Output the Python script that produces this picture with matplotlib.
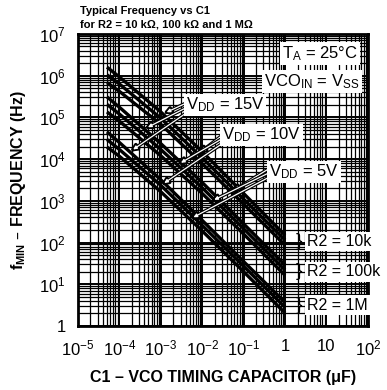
import numpy as np
import matplotlib.pyplot as plt
from matplotlib.ticker import LogLocator, FixedLocator, NullFormatter

plt.rcParams['font.family'] = ['Liberation Sans Narrow', 'Liberation Sans', 'DejaVu Sans']
plt.rcParams['mathtext.default'] = 'regular'

# ---- Data: timing capacitor C1 (uF) and minimum frequency (Hz) ----
c1 = [5e-5, 1e-4, 1e-3, 1e-2, 1e-1, 1.0]

f_10k_15v = [1.6e6, 9.3e5, 1.35e5, 1.5e4, 1.5e3, 150]
f_10k_10v = [1.05e6, 6.3e5, 9.5e4, 1.07e4, 1.1e3, 115]
f_10k_5v = [6.8e5, 4.2e5, 6.8e4, 7.8e3, 830, 87]

f_100k_15v = [3.1e5, 1.75e5, 2.35e4, 2.75e3, 280, 29]
f_100k_10v = [2.05e5, 1.2e5, 1.7e4, 2.05e3, 215, 22]
f_100k_5v = [1.35e5, 8.1e4, 1.2e4, 1.5e3, 160, 16.5]

f_1m_15v = [4.5e4, 2.5e4, 3.2e3, 340, 35, 3.7]
f_1m_10v = [2.95e4, 1.7e4, 2.35e3, 257, 27, 2.8]
f_1m_5v = [1.95e4, 1.17e4, 1.65e3, 190, 20, 2.05]

curves_15v = [f_10k_15v, f_100k_15v, f_1m_15v]
curves_10v = [f_10k_10v, f_100k_10v, f_1m_10v]
curves_5v = [f_10k_5v, f_100k_5v, f_1m_5v]

x_ticks = [1e-5, 1e-4, 1e-3, 1e-2, 1e-1, 1, 10, 100]
x_labels = ['$10^{-5}$', '$10^{-4}$', '$10^{-3}$', '$10^{-2}$', '$10^{-1}$', '1', '10', '$10^{2}$']
y_ticks = [1, 1e1, 1e2, 1e3, 1e4, 1e5, 1e6, 1e7]
y_labels = ['1', '$10^{1}$', '$10^{2}$', '$10^{3}$', '$10^{4}$', '$10^{5}$', '$10^{6}$', '$10^{7}$']

fig = plt.figure(figsize=(3.87, 3.90), dpi=100)
ax = fig.add_axes([0.2016, 0.164, 0.749, 0.749])
ax.set_xscale('log')
ax.set_yscale('log')
ax.set_xlim(1e-5, 1e2)
ax.set_ylim(1, 1e7)

ax.xaxis.set_minor_locator(LogLocator(base=10, subs=range(2, 10), numticks=20))
ax.yaxis.set_minor_locator(LogLocator(base=10, subs=range(2, 10), numticks=20))
ax.xaxis.set_minor_formatter(NullFormatter())
ax.yaxis.set_minor_formatter(NullFormatter())
ax.xaxis.set_major_locator(FixedLocator(x_ticks))
ax.yaxis.set_major_locator(FixedLocator(y_ticks))
ax.set_xticklabels(x_labels, fontsize=12)
ax.set_yticklabels(y_labels, fontsize=12)
ax.tick_params(which='both', length=0, pad=9)
ax.grid(which='major', color='black', lw=1.4)
ax.grid(which='minor', color='black', lw=0.9)
for s in ax.spines.values():
    s.set_linewidth(2)

# ---- curves ----
for group in (curves_15v, curves_10v, curves_5v):
    for f in group:
        ax.plot(c1, f, color='black', lw=2.4, solid_capstyle='butt', zorder=3)

# ---- labels with arrows (white arrows with black outline) ----
box = dict(facecolor='white', edgecolor='none', pad=1.5)


def point_on(f, lx):
    return 10 ** lx, 10 ** np.interp(lx, np.log10(c1), np.log10(f))


vdd_labels = [('$V_{DD}$ = 15V', (0.507, 0.757), curves_15v, [-2.95, -3.4, -3.75]),
              ('$V_{DD}$ = 10V', (0.634, 0.654), curves_10v, [-2.1, -2.6, -3.0]),
              ('$V_{DD}$ = 5V', (0.779, 0.527), curves_5v, [-1.3, -1.8, -2.3])]
for text, pos, group, lxs in vdd_labels:
    for i, (f, lx) in enumerate(zip(group, lxs)):
        tail = (pos[0] - 0.115, pos[1] + 0.015 - 0.015 * i)
        ax.annotate('', xy=point_on(f, lx), xycoords='data',
                    xytext=tail, textcoords='axes fraction',
                    arrowprops=dict(arrowstyle='-|>', color='black', lw=2.6,
                                    mutation_scale=9, shrinkA=0, shrinkB=0),
                    zorder=5)
        ax.annotate('', xy=point_on(f, lx), xycoords='data',
                    xytext=tail, textcoords='axes fraction',
                    arrowprops=dict(arrowstyle='-|>', color='white', lw=0.9,
                                    mutation_scale=5, shrinkA=0, shrinkB=3),
                    zorder=5)
    ax.text(pos[0], pos[1], text, transform=ax.transAxes, ha='center', va='center',
            fontsize=12, bbox=box, zorder=6)

ax.text(0.834, 0.932, '$T_A$ = 25°C', transform=ax.transAxes, ha='center', va='center',
        fontsize=12, bbox=box, zorder=6)
ax.text(0.807, 0.836, '$VCO_{IN}$ = $V_{SS}$', transform=ax.transAxes, ha='center',
        va='center', fontsize=12, bbox=box, zorder=6)

for text, yf in [('R2 = 10k', 0.288), ('R2 = 100k', 0.185), ('R2 = 1M', 0.072)]:
    ax.text(0.762, yf, '}', transform=ax.transAxes, ha='center', va='center',
            fontsize=14, zorder=6)
    ax.text(0.79, yf, text, transform=ax.transAxes, ha='left', va='center',
            fontsize=11.5, bbox=box, zorder=6)

# ---- titles ----
fig.text(0.207, 0.972, 'Typical Frequency vs C1', fontsize=8, fontweight='bold', va='center')
fig.text(0.207, 0.936, 'for R2 = 10 kΩ, 100 kΩ and 1 MΩ', fontsize=8, fontweight='bold',
         va='center')
ax.set_xlabel('C1 – VCO TIMING CAPACITOR (μF)', fontsize=11.5, fontweight='bold', labelpad=8)
ax.set_ylabel('$f_{MIN}$ – FREQUENCY (Hz)', fontsize=11.5, fontweight='bold', labelpad=8)

fig.savefig('out.png', dpi=100)
